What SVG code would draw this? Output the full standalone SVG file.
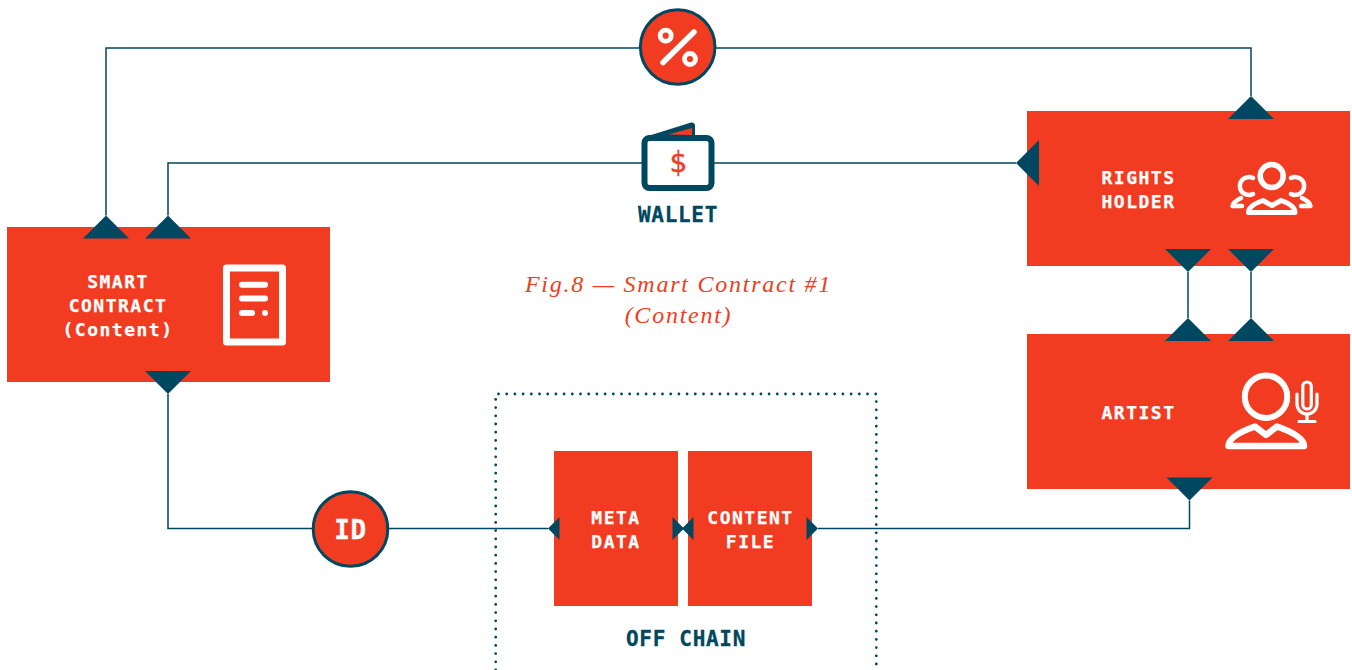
<svg xmlns="http://www.w3.org/2000/svg" width="1352" height="670" viewBox="0 0 1352 670">
<style>
.box{fill:#f23c21}
.lb{font-family:"DejaVu Sans Mono","Liberation Mono",monospace;font-weight:700;font-size:18px;letter-spacing:1.5px;fill:#fff;stroke:#fff;stroke-width:.25px;text-anchor:middle}
.dk{font-family:"DejaVu Sans Mono","Liberation Mono",monospace;font-weight:700;font-size:21px;letter-spacing:.7px;fill:#004760;stroke:#004760;stroke-width:.3px;text-anchor:middle}
.cap{font-family:"Liberation Serif",serif;font-style:italic;font-size:24px;letter-spacing:1.75px;fill:#f23c21;text-anchor:middle}
.ico{fill:none;stroke:#fff;stroke-linecap:round;stroke-linejoin:round}
.con{fill:none;stroke:#004760;stroke-width:1.5}
.big{marker-start:url(#tri);marker-end:url(#tri)}
.circ{fill:#f23c21;stroke:#004760;stroke-width:3}
</style>
<defs>
<marker id="tri" markerUnits="userSpaceOnUse" markerWidth="24" markerHeight="46" refX="0" refY="23" orient="auto-start-reverse" overflow="visible"><path d="M0 23L23 0V46Z" fill="#004760"/></marker>
<marker id="tris" markerUnits="userSpaceOnUse" markerWidth="12" markerHeight="23" refX="0" refY="11.5" orient="auto-start-reverse" overflow="visible"><path d="M0 11.5L11.5 0V23Z" fill="#004760"/></marker>
</defs>
<g id="off-chain">
<path d="M495.7 670V394H876.3V670" fill="none" stroke="#004760" stroke-width="2.8" stroke-linecap="round" stroke-dasharray="0 8.2"/>
<text class="dk" x="686" y="646">OFF CHAIN</text>
</g>
<g id="smart-contract">
<rect class="box" x="7" y="227" width="323" height="155"/>
<text class="lb" x="118" y="288">SMART</text>
<text class="lb" x="118" y="312">CONTRACT</text>
<text class="lb" x="118" y="335.5">(Content)</text>
<rect class="ico" x="226.5" y="268" width="56" height="74" stroke-width="7"/>
<path class="ico" stroke-width="6" d="M242 284.7H265M242 298.5H265M242 313H252"/>
<circle cx="265" cy="313" r="3" fill="#fff"/>
</g>
<g id="rights-holder">
<rect class="box" x="1027" y="111" width="323" height="155"/>
<text class="lb" x="1138.5" y="184">RIGHTS</text>
<text class="lb" x="1138.5" y="208">HOLDER</text>
<circle class="ico" cx="1271.7" cy="176" r="11.5" stroke-width="5.5"/>
<path class="ico" stroke-width="4.5" d="M1253 178A9 9 0 1 0 1253 194M1291 178A9 9 0 1 1 1291 194"/>
<path class="ico" stroke-width="5" d="M1248.500 212.500H1295C1295 206 1287 202.500 1281 200.500L1272 205.500L1263 200.500C1257 202.500 1248.500 206 1248.500 212.500Z"/>
<path class="ico" stroke-width="4.500" d="M1241 198C1237 200 1233 203 1232.500 206H1242M1302 198C1306 200 1310 203 1310.500 206H1301"/>
</g>
<g id="artist">
<rect class="box" x="1027" y="334" width="323" height="155"/>
<text class="lb" x="1138.5" y="419">ARTIST</text>
<circle class="ico" cx="1266" cy="396.700" r="21.200" stroke-width="6"/>
<path class="ico" stroke-width="6.500" d="M1228.500 446H1304C1304 437 1287 430 1277 426.500L1266 435L1255 426.500C1245 430 1228.500 437 1228.500 446Z"/>
<rect class="ico" x="1302.800" y="382" width="8.500" height="27" rx="4.200" stroke-width="3.200"/>
<path class="ico" stroke-width="3.200" d="M1297 394V404A10 10 0 0 0 1317 404V394M1307 414V421.500M1299 421.500H1315"/>
</g>
<g id="meta-data">
<rect class="box" x="554" y="451" width="124" height="155"/>
<text class="lb" x="616" y="524">META</text>
<text class="lb" x="616" y="548">DATA</text>
</g>
<g id="content-file">
<rect class="box" x="688" y="451" width="124" height="155"/>
<text class="lb" x="750.500" y="524">CONTENT</text>
<text class="lb" x="750.500" y="548">FILE</text>
</g>
<g id="connectors">
<path class="con big" d="M106 215.500V48H1251V96"/>
<path class="con big" d="M168 215.500V163H1016"/>
<path class="con big" d="M1188 272V318"/>
<path class="con big" d="M1251 272V318"/>
<path class="con" marker-start="url(#tri)" marker-end="url(#tris)" d="M168 394V528.500H548"/>
<path class="con" marker-start="url(#tris)" marker-end="url(#tri)" d="M818 528.500H1189.500V500.500"/>
<path class="con" marker-start="url(#tris)" d="M684 528.500h.01"/>
<path class="con" marker-start="url(#tris)" d="M682 528.500h-.01"/>
</g>
<g id="percent">
<circle class="circ" cx="677.700" cy="47" r="37.300"/>
<circle cx="665.700" cy="35.700" r="5.500" fill="none" stroke="#fff" stroke-width="4.800"/>
<circle cx="690" cy="59" r="5.500" fill="none" stroke="#fff" stroke-width="4.800"/>
<path class="ico" stroke-width="5.500" d="M663 62.500L694 32"/>
</g>
<g id="id-badge">
<circle class="circ" cx="350.500" cy="529" r="37.300"/>
<text x="350.500" y="539" font-family="DejaVu Sans Mono,monospace" font-weight="700" font-size="26" letter-spacing=".5" fill="#fff" stroke="#fff" stroke-width=".3" text-anchor="middle">ID</text>
</g>
<g id="wallet">
<path d="M648 136L691 122.500Q695 122 695 126V137H668Z" fill="#004760"/>
<path d="M668 134.500L692 128V135Z" fill="#f23c21"/>
<rect x="644.500" y="138" width="67" height="50" rx="5" fill="#fff" stroke="#004760" stroke-width="6"/>
<text x="678" y="172" font-family="DejaVu Sans Mono,monospace" font-size="29" fill="#f23c21" stroke="#f23c21" stroke-width=".4" text-anchor="middle">$</text>
<text class="dk" x="678" y="222">WALLET</text>
</g>
<g id="caption">
<text class="cap" x="678.500" y="291.700">Fig.8 — Smart Contract #1</text>
<text class="cap" x="678.500" y="322.700">(Content)</text>
</g>
</svg>
